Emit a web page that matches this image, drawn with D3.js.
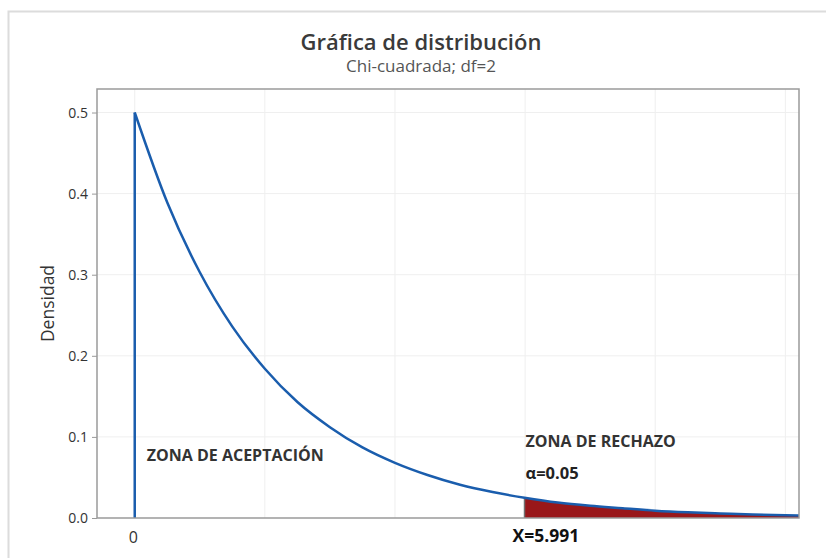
<!DOCTYPE html>
<html><head><meta charset="utf-8">
<script src="https://cdn.jsdelivr.net/npm/d3@7"></script>
<style>
body{margin:0;background:#fff;}
svg{display:block;font-family:"Open Sans","Noto Sans",sans-serif;}
</style></head>
<body><svg id="c" width="826" height="558"></svg>
<script>
// Data
const curveX = [0, 0.5, 1, 1.5, 2, 2.5, 3, 3.5, 4, 4.5, 5, 5.5, 5.991, 6.5, 7, 7.5, 8, 8.5, 9, 9.5, 10, 10.21];
const curveY = [0.500, 0.389, 0.303, 0.236, 0.184, 0.143, 0.112, 0.087, 0.068, 0.053, 0.041, 0.032, 0.025, 0.019, 0.015, 0.012, 0.009, 0.007, 0.0056, 0.0043, 0.0034, 0.0031];
const critical = 5.991;
const alpha = 0.05;
const yTicks = [0.0, 0.1, 0.2, 0.3, 0.4, 0.5];
const xTicks = [0];
const xGrid = [0, 2, 4, 6, 8, 10];
const title = "Gráfica de distribución";
const subtitle = "Chi-cuadrada; df=2";
const yLabel = "Densidad";

const svg = d3.select("#c");
const m = {l: 97, r: 799, t: 89, b: 518};
const x = d3.scaleLinear().domain([-0.58, 10.21]).range([m.l, m.r]);
const y = d3.scaleLinear().domain([0, 0.529]).range([m.b, m.t]);

// outer frame
svg.append("path").attr("d", `M8.5,558 V11.5 H826`).attr("fill","none").attr("stroke","#dcdcdc").attr("stroke-width",2);

// grid
const g = svg.append("g");
g.selectAll(".vg").data(xGrid).join("line")
  .attr("x1", d=>x(d)).attr("x2", d=>x(d)).attr("y1", m.t).attr("y2", m.b)
  .attr("stroke","#efefef").attr("stroke-width",1);
g.selectAll(".hg").data(yTicks.slice(1)).join("line")
  .attr("x1", m.l).attr("x2", m.r).attr("y1", d=>y(d)).attr("y2", d=>y(d))
  .attr("stroke","#efefef").attr("stroke-width",1);

const pts = curveX.map((v,i)=>({x:v, y:curveY[i]}));

// rejection area
const tail = pts.filter(p=>p.x >= critical);
const area = d3.area().x(d=>x(d.x)).y0(y(0)).y1(d=>y(d.y)).curve(d3.curveMonotoneX);
svg.append("path").datum(tail).attr("d", area).attr("fill","#99171a");
svg.append("line").attr("x1", x(critical)).attr("x2", x(critical))
  .attr("y1", y(0)).attr("y2", y(curveY[curveX.indexOf(critical)]))
  .attr("stroke","#707070").attr("stroke-width",1.5);

// curve
const line = d3.line().x(d=>x(d.x)).y(d=>y(d.y)).curve(d3.curveMonotoneX);
svg.append("line").attr("x1", x(0)).attr("x2", x(0)).attr("y1", y(0)).attr("y2", y(curveY[0]))
  .attr("stroke","#1a5dad").attr("stroke-width",2.5);
svg.append("path").datum(pts).attr("d", line).attr("fill","none")
  .attr("stroke","#1a5dad").attr("stroke-width",2.5).attr("stroke-linejoin","round");

// frame
svg.append("rect").attr("x", m.l).attr("y", m.t).attr("width", m.r-m.l).attr("height", m.b-m.t)
  .attr("fill","none").attr("stroke","#9a9a9a").attr("stroke-width",1.5);

// axes
const ya = svg.append("g").attr("transform", `translate(${m.l},0)`)
  .call(d3.axisLeft(y).tickValues(yTicks).tickFormat(d3.format(".1f")).tickSize(5).tickPadding(4));
ya.select(".domain").remove();
ya.selectAll("line").attr("stroke","#9a9a9a");
ya.selectAll("text").style("font-size","14px").style("font-family","'Open Sans',sans-serif").attr("fill","#333");

const xa = svg.append("g").attr("transform", `translate(0,${m.b})`)
  .call(d3.axisBottom(x).tickValues(xTicks).tickFormat(d3.format("d")).tickSize(0).tickPadding(14));
xa.select(".domain").remove();
xa.selectAll("text").style("font-size","16px").style("font-family","'Open Sans',sans-serif").attr("fill","#333").attr("dx",-2);

// titles
svg.append("text").attr("x", 421).attr("y", 50).attr("text-anchor","middle")
  .attr("font-size",22).attr("font-weight",600).attr("fill","#3a3a3a").text(title);
svg.append("text").attr("x", 421).attr("y", 72).attr("text-anchor","middle")
  .attr("font-size",17).attr("fill","#555").text(subtitle);
svg.append("text").attr("transform", `translate(54,${(m.t+m.b)/2}) rotate(-90)`).attr("text-anchor","middle")
  .attr("font-size",17.5).attr("fill","#333").text(yLabel);

// annotations
svg.append("text").attr("x", x(0)+12).attr("y", 461).attr("font-size",16).attr("font-weight",700)
  .attr("fill","#333").text("ZONA DE ACEPTACIÓN");
svg.append("text").attr("x", x(critical)+1).attr("y", 447).attr("font-size",16).attr("font-weight",700)
  .attr("fill","#333").text("ZONA DE RECHAZO");
svg.append("text").attr("x", x(critical)+1).attr("y", 479).attr("font-size",16.5).attr("font-weight",700)
  .attr("fill","#222").text("α=" + alpha.toFixed(2));
svg.append("text").attr("x", x(critical)-12).attr("y", 542).attr("font-size",17.5).attr("font-weight",700)
  .attr("fill","#111").text("X=" + critical.toFixed(3));
</script></body></html>
